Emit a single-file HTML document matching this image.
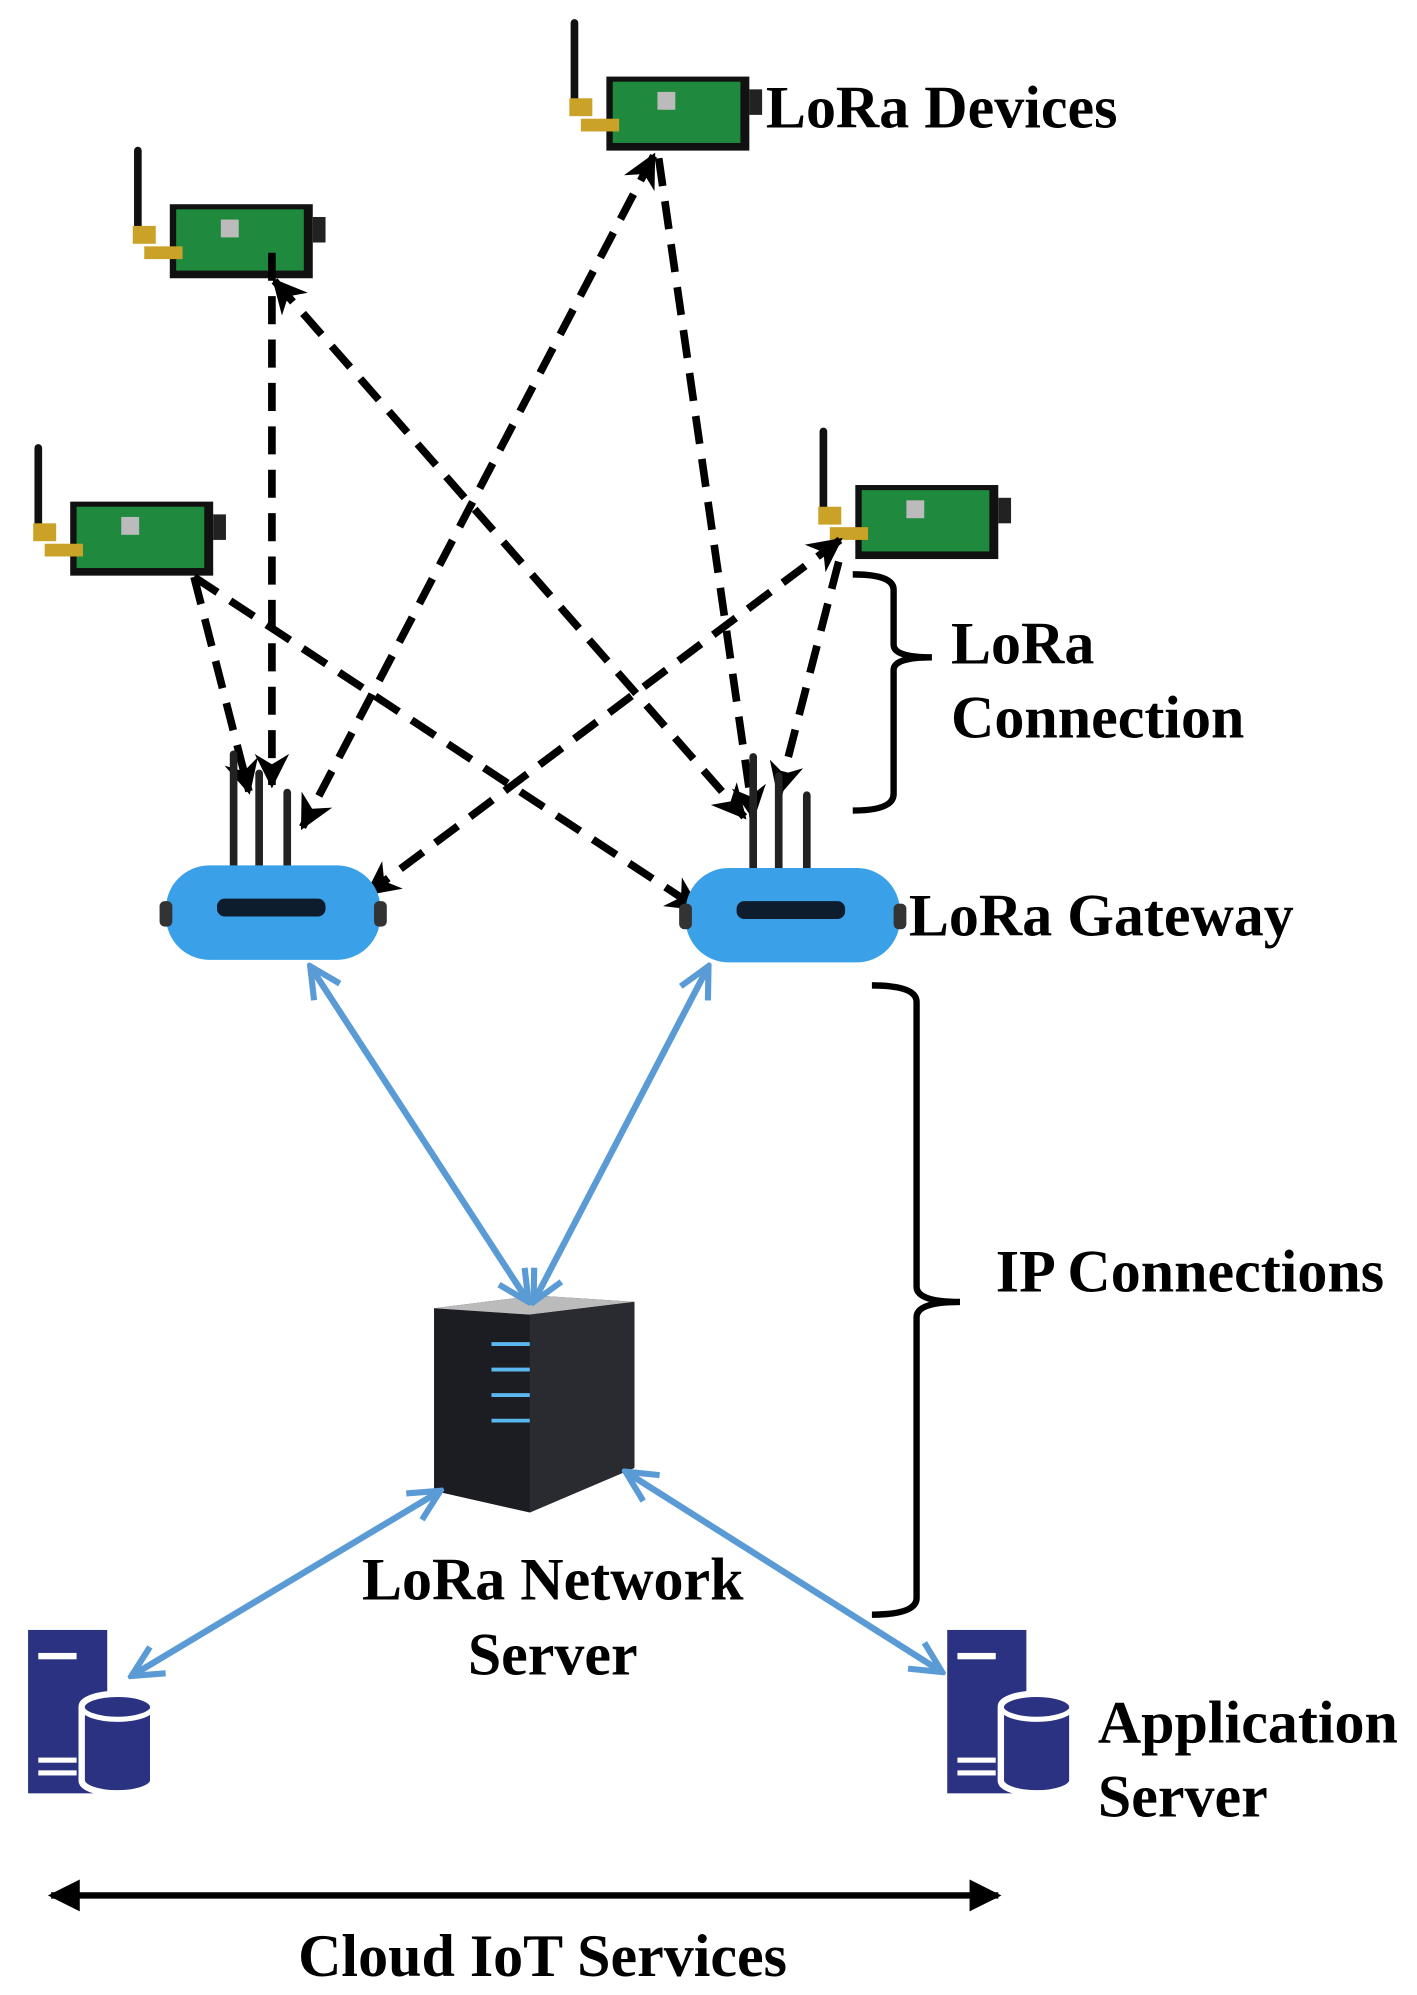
<!DOCTYPE html>
<html><head><meta charset="utf-8"><style>
html,body{margin:0;padding:0;background:#fff;}
svg{display:block;}
text{font-family:"Liberation Serif",serif;font-weight:bold;fill:#000;}
</style></head><body>
<svg width="1417" height="1995" viewBox="0 0 1110 1563" preserveAspectRatio="none" xmlns="http://www.w3.org/2000/svg">
<defs>
<marker id="ah" viewBox="0 0 10 10" refX="9" refY="5" markerWidth="4.5" markerHeight="4.5" orient="auto-start-reverse" markerUnits="strokeWidth"><path d="M0,0 L10,5 L0,10 L3,5 z" fill="#000"/></marker>
<marker id="bh" viewBox="0 0 10 10" refX="9" refY="5" markerWidth="6" markerHeight="6" orient="auto-start-reverse" markerUnits="strokeWidth"><path d="M1,1 L9,5 L1,9" fill="none" stroke="#5b9bd5" stroke-width="1.6"/></marker>
<marker id="kh" viewBox="0 0 10 10" refX="9" refY="5" markerWidth="5" markerHeight="5" orient="auto-start-reverse" markerUnits="strokeWidth"><path d="M0,0 L10,5 L0,10 z" fill="#000"/></marker>
<g id="dev">
<rect x="-3" y="0" width="6" height="70" rx="3" fill="#111"/>
<rect x="-4" y="62" width="18" height="14" fill="#c9a227"/>
<rect x="25" y="45" width="112" height="58" fill="#111"/>
<rect x="30" y="49" width="100" height="48" fill="#1f8a3e"/>
<rect x="137" y="55" width="10" height="20" fill="#222"/>
<rect x="65" y="57" width="14" height="14" fill="#bbb"/>
<rect x="5" y="78" width="30" height="10" fill="#c9a227"/>
</g>
<g id="gw">
<rect x="50" y="-90" width="6" height="95" rx="3" fill="#222"/>
<rect x="70" y="-75" width="6" height="80" rx="3" fill="#222"/>
<rect x="92" y="-60" width="6" height="65" rx="3" fill="#222"/>
<rect x="0" y="0" width="168" height="74" rx="34" fill="#3aa0e8"/>
<rect x="-5" y="28" width="10" height="20" rx="4" fill="#333"/>
<rect x="163" y="28" width="10" height="20" rx="4" fill="#333"/>
<rect x="40" y="26" width="85" height="14" rx="6" fill="#0d1d2e"/>
</g>
<g id="db">
<rect x="0" y="0" width="62" height="128" fill="#2b3282"/>
<rect x="8" y="18" width="30" height="5" fill="#fff"/>
<rect x="8" y="100" width="30" height="4" fill="#fff"/>
<rect x="8" y="110" width="30" height="4" fill="#fff"/>
<path d="M42,60 a28,10 0 0 1 56,0 v58 a28,10 0 0 1 -56,0 z" fill="#2b3282" stroke="#fff" stroke-width="5"/>
<path d="M42,60 a28,10 0 0 0 56,0" fill="none" stroke="#fff" stroke-width="4"/>
</g>
</defs>

<use href="#dev" x="450" y="15"/>
<use href="#dev" x="108" y="115"/>
<use href="#dev" x="30" y="348"/>
<use href="#dev" x="645" y="335"/>

<g stroke="#000" stroke-width="6" stroke-dasharray="22,12" fill="none">
<line x1="512" y1="122" x2="237" y2="648" marker-start="url(#ah)" marker-end="url(#ah)"/>
<line x1="516" y1="124" x2="590" y2="640" marker-end="url(#ah)"/>
<line x1="213" y1="198" x2="213" y2="615" marker-end="url(#ah)"/>
<line x1="215" y1="220" x2="583" y2="640" marker-start="url(#ah)" marker-end="url(#ah)"/>
<line x1="152" y1="452" x2="195" y2="620" marker-end="url(#ah)"/>
<line x1="152" y1="452" x2="547" y2="712" marker-end="url(#ah)"/>
<line x1="658" y1="423" x2="288" y2="700" marker-start="url(#ah)" marker-end="url(#ah)"/>
<line x1="657" y1="440" x2="610" y2="622" marker-end="url(#ah)"/>
</g>

<use href="#gw" x="130" y="678"/>
<use href="#gw" x="537" y="680"/>

<!-- server -->
<polygon points="340,1025 420,1015 497,1020 497,1150 415,1185 340,1168" fill="#1c1d22"/>
<polygon points="340,1025 420,1015 497,1020 415,1030" fill="#bbb"/>
<polygon points="415,1030 497,1020 497,1150 415,1185" fill="#2a2b30"/>
<g stroke="#5ab8ee" stroke-width="3"><line x1="385" y1="1053" x2="415" y2="1053"/><line x1="385" y1="1073" x2="415" y2="1073"/><line x1="385" y1="1093" x2="415" y2="1093"/><line x1="385" y1="1113" x2="415" y2="1113"/></g>

<g stroke="#5b9bd5" stroke-width="5" fill="none">
<line x1="243" y1="757" x2="414" y2="1020" marker-start="url(#bh)" marker-end="url(#bh)"/>
<line x1="555" y1="757" x2="418" y2="1020" marker-start="url(#bh)" marker-end="url(#bh)"/>
<line x1="345" y1="1168" x2="103" y2="1313" marker-start="url(#bh)" marker-end="url(#bh)"/>
<line x1="490" y1="1153" x2="738" y2="1310" marker-start="url(#bh)" marker-end="url(#bh)"/>
</g>

<use href="#db" x="22" y="1277"/>
<use href="#db" x="742" y="1277"/>

<g stroke="#000" stroke-width="5" fill="none">
<path d="M668,450 Q700,450 700,462 V505 Q700,515 730,515 Q700,515 700,525 V622 Q700,635 668,635"/>
<path d="M683,772 Q718,772 718,785 V1008 Q718,1020 752,1020 Q718,1020 718,1032 V1252 Q718,1265 683,1265"/>
<line x1="40" y1="1485" x2="782" y2="1485" marker-start="url(#kh)" marker-end="url(#kh)"/>
</g>

<g font-size="47">
<text x="600" y="100">LoRa Devices</text>
<text x="745" y="520">LoRa</text>
<text x="745" y="578">Connection</text>
<text x="712" y="733">LoRa Gateway</text>
<text x="780" y="1012">IP Connections</text>
<text x="433" y="1253" text-anchor="middle">LoRa Network</text>
<text x="433" y="1312" text-anchor="middle">Server</text>
<text x="860" y="1365">Application</text>
<text x="860" y="1423">Server</text>
<text x="425" y="1548" text-anchor="middle">Cloud IoT Services</text>
</g>
</svg>
</body></html>
